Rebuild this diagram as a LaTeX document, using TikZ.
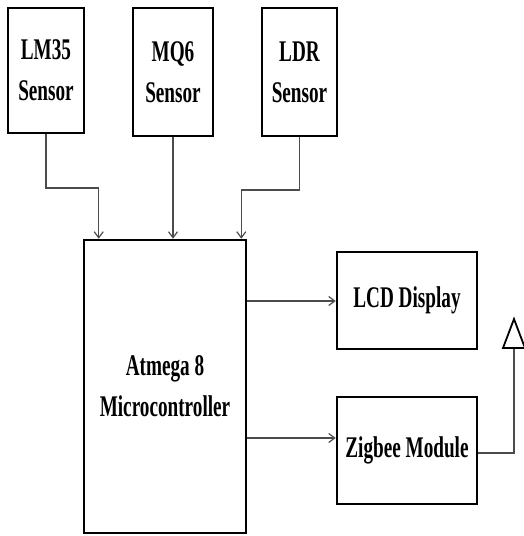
\documentclass[tikz,border=0pt]{standalone}
\usepackage{fontspec}
\newfontfamily\lblfont[FakeStretch=0.64]{Liberation Serif}
\usetikzlibrary{arrows.meta,calc}
\begin{document}
\begin{tikzpicture}[x=1pt,y=-1pt,
  blk/.style={draw=black,line width=2.6pt,fill=white,inner sep=0pt,align=center,
    font=\lblfont\bfseries\fontsize{30}{41}\selectfont},
  conn/.style={draw=black!70,line width=1.3pt,-{Straight Barb[length=6pt,width=9pt,line width=1.2pt]}},
  wire/.style={draw=black!70,line width=1.3pt}]
\useasboundingbox (0,0) rectangle (523,536);
\node[blk,minimum width=76pt,minimum height=125pt] (lm) at (46,70.5) {LM35\\Sensor};
\node[blk,minimum width=80pt,minimum height=128pt] (mq) at (173,72) {MQ6\\Sensor};
\node[blk,minimum width=75pt,minimum height=128pt] (ldr) at (299.5,72) {LDR\\Sensor};
\node[blk,minimum width=162pt,minimum height=293pt] (mc) at (165,386.5) {Atmega 8\\Microcontroller};
\node[blk,minimum width=140pt,minimum height=97pt] (lcd) at (407,300.5) {LCD Display};
\node[blk,minimum width=140pt,minimum height=107pt] (zb) at (407,450.5) {Zigbee Module};
\coordinate (ant) at (514,348);
\draw[conn] (lm.south) -- (lm.south |- 0,188) -| ($(mc.north west)+(16,0)$);
\draw[conn] (mq.south) -- (mc.north -| mq.south);
\draw[conn] (ldr.south) -- (ldr.south |- 0,190) -| ($(mc.north east)+(-6,0)$);
\draw[conn] (mc.east |- 0,301) -- (lcd.west |- 0,301);
\draw[conn] (mc.east |- 0,438) -- (zb.west |- 0,438);
\draw[wire] (zb.east |- 0,453) -| (ant);
\draw[line width=1.8pt] (503,348) -- (514,319) -- (525,348) -- cycle;
\end{tikzpicture}
\end{document}
